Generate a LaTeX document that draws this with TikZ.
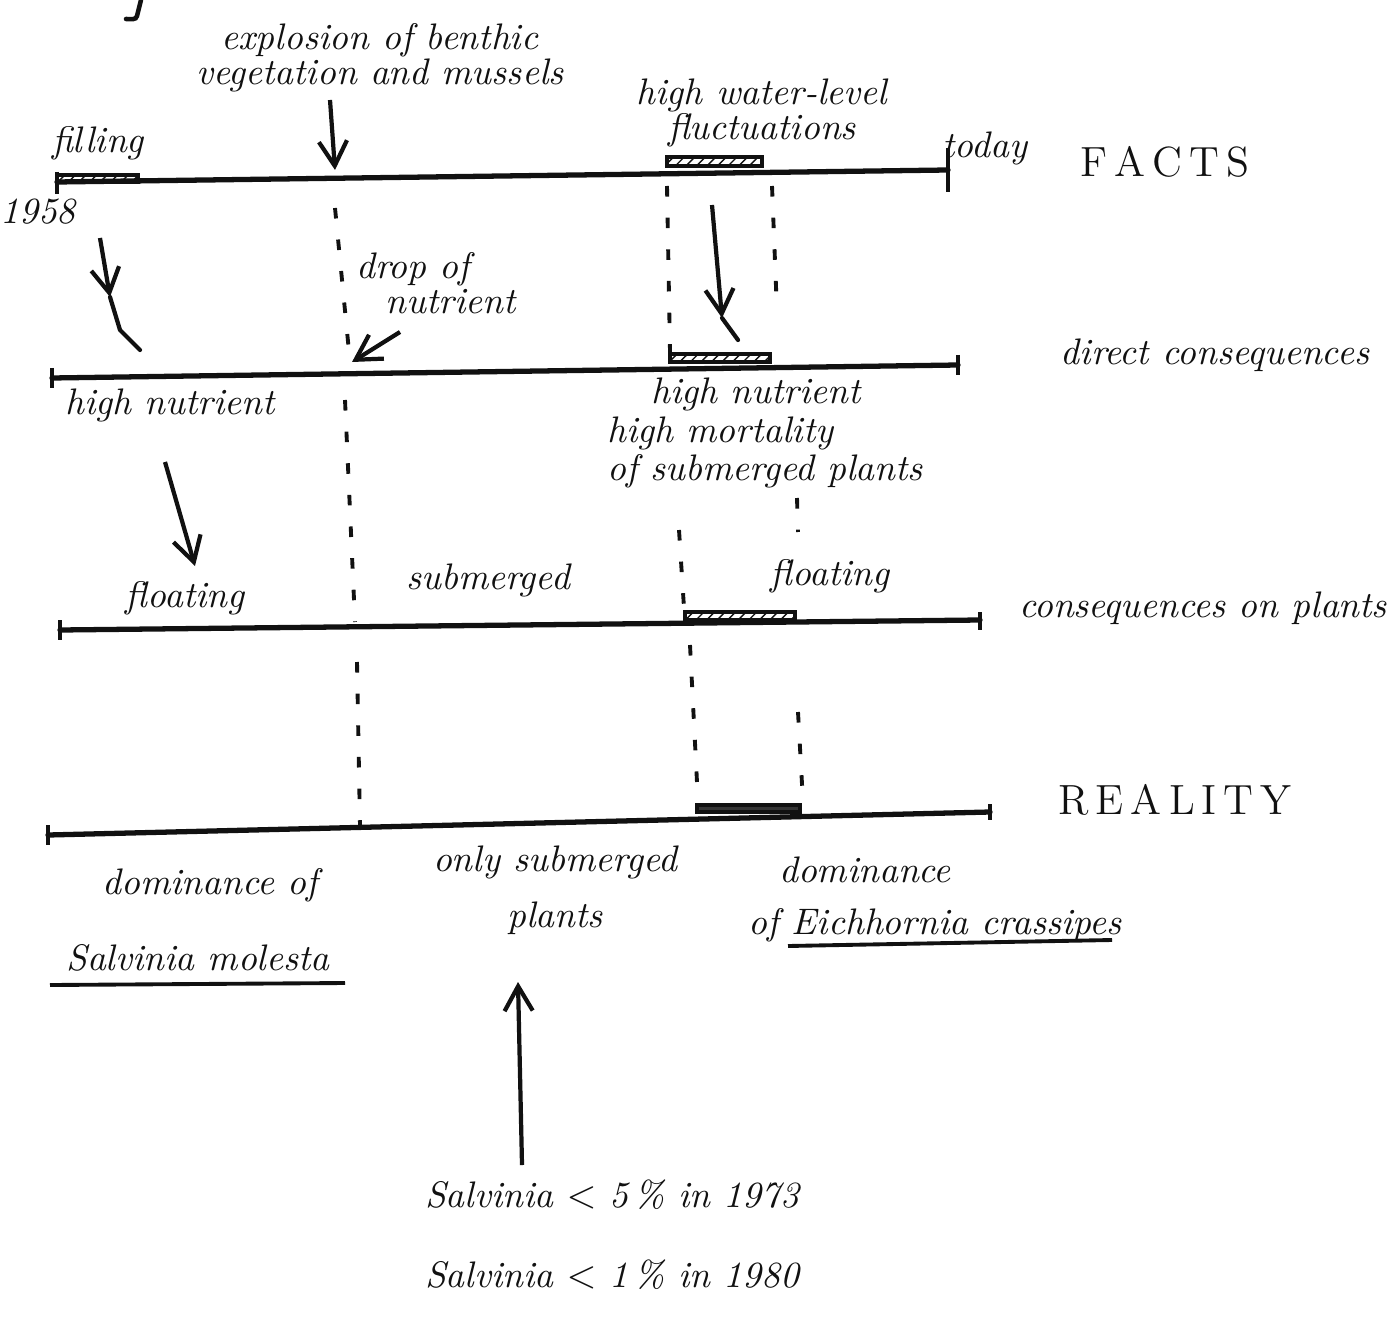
\documentclass[tikz,border=0pt]{standalone}
\usepackage{xcolor}
\usepackage{tikz}
\usetikzlibrary{positioning,arrows.meta,patterns}
\definecolor{inkBlack}{HTML}{111111}
\tikzset{
  tline/.style={draw=inkBlack, line width=1.5pt, line cap=round},
  tick/.style={draw=inkBlack, line width=1.3pt},
  dotline/.style={draw=inkBlack, line width=1.1pt, dash pattern=on 3pt off 6pt},
  hatchbar/.style={draw=inkBlack, line width=0.9pt, pattern=north east lines, pattern color=inkBlack},
  arrow/.style={-{Straight Barb[length=7pt,width=8pt]}, draw=inkBlack, line width=1.2pt},
  hand/.style={font=\fontsize{10.5}{12}\selectfont\itshape, text=inkBlack, inner sep=1pt, align=center},
  rowLabel/.style={hand, font=\fontsize{10.5}{12}\selectfont\itshape},
  capsLabel/.style={hand, font=\fontsize{12}{14}\selectfont}
}

\begin{document}
\begin{tikzpicture}[x=0.01cm, y=-0.01cm]
  \useasboundingbox (0,0) rectangle (1392,1316);

  % stray pen mark at the top
  \draw[tline, line width=1.3pt] (141,0) -- (137,16) to[out=-100,in=0] (126,19);

  % time lines
  \coordinate (f0) at (57,182);  \coordinate (f1) at (948,170);
  \coordinate (c0) at (52,378);  \coordinate (c1) at (958,365);
  \coordinate (p0) at (60,630);  \coordinate (p1) at (980,620);
  \coordinate (r0) at (48,835);  \coordinate (r1) at (990,812);
  \draw[tline] (f0) -- (f1);
  \draw[tline] (c0) -- (c1);
  \draw[tline] (p0) -- (p1);
  \draw[tline] (r0) -- (r1);
  \draw[tick] (57,172) -- (57,194);
  \draw[tick] (948,148) -- (948,192);
  \draw[tick] (52,368) -- (52,388);
  \draw[tick] (958,355) -- (958,375);
  \draw[tick] (60,620) -- (60,640);
  \draw[tick] (980,612) -- (980,630);
  \draw[tick] (48,825) -- (48,845);
  \draw[tick] (990,804) -- (990,820);

  % hatched periods
  \draw[hatchbar] (57,175) rectangle (138,182);
  \draw[hatchbar] (667,157) rectangle (762,166);
  \draw[hatchbar] (670,354) rectangle (770,362);
  \draw[hatchbar] (685,612) rectangle (795,620);
  \draw[draw=inkBlack, fill=inkBlack!85, line width=0.9pt] (697,805) rectangle (800,812);

  % dotted limits
  \draw[dotline] (335,208) -- (350,362);
  \draw[dotline] (345,400) -- (355,622);
  \draw[dotline] (357,662) -- (360,826);
  \draw[dotline] (667,186) -- (670,352);
  \draw[dotline] (679,530) -- (684,608);
  \draw[dotline] (690,645) -- (698,802);
  \draw[dotline] (772,186) -- (777,312);
  \draw[dotline] (797,498) -- (798,532);
  \draw[dotline] (798,712) -- (803,802);

  % labels
  \node[hand] (filling) at (98,143) {filling};
  \node[hand] (start) at (38,212) {1958};
  \node[hand] (explosion) at (380,58) {explosion of benthic\\[-2pt]vegetation and mussels};
  \node[hand] (fluct) at (762,113) {high water-level\\[-2pt]fluctuations};
  \node[hand] (today) at (985,148) {today};
  \node[capsLabel] (facts) at (1165,162) {F\,A\,C\,T\,S};
  \node[hand, align=left] (drop) at (436,283) {drop of\\[-2pt]\hspace{0.8em}nutrient};
  \node[rowLabel] (direct) at (1215,355) {direct consequences};
  \node[hand] (nutLeft) at (170,405) {high nutrient};
  \node[hand, align=left] (nutRight) at (765,433) {\hspace{1.2em}high nutrient\\[-1pt]high mortality\\[-1pt]of submerged plants};
  \node[hand] (floatLeft) at (185,598) {floating};
  \node[hand] (subm) at (488,580) {submerged};
  \node[hand] (floatRight) at (830,576) {floating};
  \node[rowLabel] (onPlants) at (1203,608) {consequences on plants};
  \node[capsLabel] (reality) at (1175,800) {R\,E\,A\,L\,I\,T\,Y};
  \node[hand] (domSalv) at (210,885) {dominance of};
  \node[hand] (salv) at (198,958) {Salvinia molesta};
  \node[hand] (onlySubm) at (555,890) {only submerged\\[4pt]plants};
  \node[hand] (domEich) at (865,870) {dominance};
  \node[hand] (eich) at (935,925) {of Eichhornia crassipes};
  \node[hand] (salv73) at (612,1195) {Salvinia $<$ 5\,\% in 1973};
  \node[hand] (salv80) at (612,1275) {Salvinia $<$ 1\,\% in 1980};
  \draw[tick, line width=1.1pt] (50,985) -- (345,983);
  \draw[tick, line width=1.1pt] (788,946) -- (1112,940);

  % arrows
  \coordinate (a1m) at (110,297);
  \coordinate (a1e) at (140,350);
  \coordinate (a4m) at (722,318);
  \coordinate (a4e) at (738,340);
  \draw[arrow] (100,238) -- (a1m);
  \draw[tline, line width=1.2pt] (a1m) -- (120,330) -- (a1e);
  \draw[arrow] (712,205) -- (a4m);
  \draw[tline, line width=1.2pt] (a4m) -- (a4e);
  \draw[arrow] (330,100) -- (335,170);
  \draw[arrow] (400,332) -- (352,362);
  \draw[arrow] (165,462) -- (195,566);
  \draw[arrow] (522,1165) -- (518,982);
\end{tikzpicture}
\end{document}
